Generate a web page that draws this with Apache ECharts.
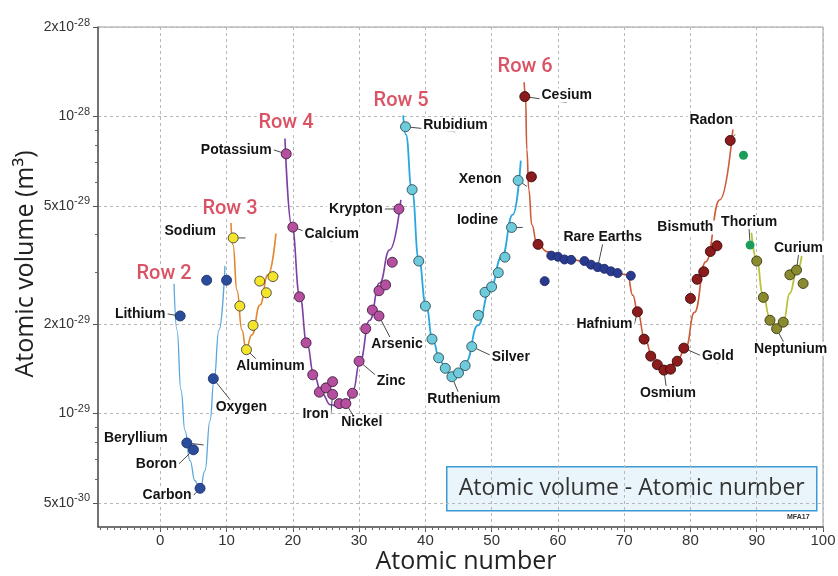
<!DOCTYPE html>
<html>
<head>
<meta charset="utf-8">
<script src="https://cdn.jsdelivr.net/npm/echarts@6/dist/echarts.min.js"></script>
<style>
  html, body { margin: 0; padding: 0; background: #fff; }
  #chart { width: 838px; height: 576px; }
</style>
</head>
<body>
<div id="chart"></div>
<script>
// Volume per atom (m³) against atomic number, one group per periodic-table row.
// Points are [atomic number, volume]; name lists mark which points carry a label.

const row2 = [[3, 2.13e-29], [4, 7.96e-30], [5, 7.55e-30], [6, 5.60e-30], [7, 2.81e-29], [8, 1.31e-29], [10, 2.81e-29]];
const row2Names = ['Lithium', 'Beryllium', 'Boron', 'Carbon', '', 'Oxygen', ''];

const row3 = [[11, 3.90e-29], [12, 2.30e-29], [13, 1.64e-29], [14, 1.98e-29], [15, 2.79e-29], [16, 2.55e-29], [17, 2.89e-29]];
const row3Names = ['Sodium', '', 'Aluminum', '', '', '', ''];

const row4 = [[19, 7.48e-29], [20, 4.24e-29], [21, 2.47e-29], [22, 1.73e-29], [23, 1.35e-29], [24, 1.18e-29], [25, 1.22e-29],
  [26, 1.28e-29], [26, 1.16e-29], [27, 1.08e-29], [28, 1.08e-29], [29, 1.17e-29], [30, 1.50e-29], [31, 1.93e-29],
  [32, 2.23e-29], [33, 2.13e-29], [33, 2.59e-29], [34, 2.71e-29], [35, 3.23e-29], [36, 4.88e-29]];
const row4Names = ['Potassium', 'Calcium', '', '', '', '', '', '', 'Iron', '', 'Nickel', '', 'Zinc', '', '', 'Arsenic', '', '', '', 'Krypton'];

const row5 = [[37, 9.23e-29], [38, 5.67e-29], [39, 3.26e-29], [40, 2.30e-29], [41, 1.78e-29], [42, 1.54e-29], [43, 1.42e-29],
  [44, 1.33e-29], [45, 1.37e-29], [46, 1.45e-29], [47, 1.68e-29], [48, 2.14e-29], [49, 2.56e-29], [50, 2.67e-29],
  [51, 2.98e-29], [52, 3.36e-29], [53, 4.23e-29], [54, 6.09e-29]];
const row5Names = ['Rubidium', '', '', '', '', '', '', 'Ruthenium', '', '', 'Silver', '', '', '', '', '', 'Iodine', 'Xenon'];

const row6 = [[55, 1.166e-28], [56, 6.26e-29], [57, 3.71e-29], [72, 2.20e-29], [73, 1.78e-29], [74, 1.56e-29], [75, 1.46e-29],
  [76, 1.40e-29], [77, 1.41e-29], [78, 1.50e-29], [79, 1.66e-29], [80, 2.44e-29], [81, 2.83e-29], [82, 3.00e-29],
  [83, 3.51e-29], [84, 3.67e-29], [86, 8.30e-29]];
const row6Names = ['Cesium', '', '', 'Hafnium', '', '', '', 'Osmium', '', '', 'Gold', '', '', '', 'Bismuth', '', 'Radon'];

const rareEarths = [[58, 2.79e-29], [59, 3.40e-29], [60, 3.37e-29], [61, 3.30e-29], [62, 3.29e-29], [64, 3.26e-29],
  [65, 3.17e-29], [66, 3.11e-29], [67, 3.07e-29], [68, 3.01e-29], [69, 2.97e-29], [71, 2.91e-29]];
const rareEarthNames = ['', '', '', '', '', '', '', 'Rare Earths', '', '', '', ''];

const row7Green = [[88, 7.40e-29], [89, 3.69e-29]];
const row7GreenNames = ['', 'Thorium'];

const row7 = [[90, 3.26e-29], [91, 2.46e-29], [92, 2.06e-29], [93, 1.93e-29], [94, 2.03e-29], [95, 2.93e-29], [96, 3.04e-29], [97, 2.74e-29]];
const row7Names = ['', '', '', 'Neptunium', '', '', 'Curium', ''];

// Hand-drawn trend curves through each row.
const row2Curve = [[2.07, 2.75e-29], [2.52, 1.91e-29], [3.12, 1.20e-29], [3.73, 8.76e-30], [4.48, 6.94e-30], [5.23, 5.94e-30],
  [5.99, 5.49e-30], [6.74, 6.42e-30], [7.5, 9.47e-30], [8.1, 1.29e-29], [8.85, 1.91e-29], [9.76, 3.14e-29]];
const row3Curve = [[10.66, 4.38e-29], [10.97, 3.69e-29], [11.57, 2.60e-29], [12.32, 1.91e-29], [12.93, 1.65e-29],
  [13.83, 1.84e-29], [15.04, 2.32e-29], [16.24, 2.93e-29], [17.45, 4.03e-29]];
const row4Curve = [[18.81, 8.43e-29], [19.86, 4.25e-29], [21.07, 2.47e-29], [22.13, 1.72e-29], [23.18, 1.35e-29],
  [24.34, 1.17e-29], [25.7, 1.07e-29], [27.1, 1.05e-29], [28.2, 1.08e-29], [29.1, 1.20e-29], [30.1, 1.49e-29],
  [31.6, 2.06e-29], [33.1, 2.75e-29], [34.6, 3.55e-29], [36.3, 5.24e-29]];
const row5Curve = [[36.65, 1.008e-28], [37.06, 8.69e-29], [37.96, 5.67e-29], [39.02, 3.29e-29], [40.08, 2.32e-29],
  [41.13, 1.76e-29], [42.19, 1.51e-29], [43.24, 1.38e-29], [44.15, 1.31e-29], [45.05, 1.35e-29], [46.11, 1.49e-29],
  [47.92, 1.98e-29], [49.73, 2.60e-29], [51.54, 3.37e-29], [53.2, 4.67e-29], [54.4, 7.10e-29]];
const row6Curve = [[54.9, 1.303e-28], [55.11, 1.166e-28], [55.31, 7.74e-29], [55.61, 5.67e-29], [56.06, 4.32e-29],
  [56.82, 3.73e-29], [58.48, 3.50e-29], [61.79, 3.31e-29], [66.31, 3.09e-29], [70.5, 2.93e-29], [71.3, 2.50e-29],
  [72.05, 2.19e-29], [73.1, 1.78e-29], [74.3, 1.55e-29], [76.1, 1.40e-29], [77.9, 1.49e-29], [79.3, 1.67e-29],
  [80.6, 2.19e-29], [82.3, 3.24e-29], [84.43, 5.24e-29], [86.4, 9.04e-29]];
const row7Curve = [[89.2, 4.06e-29], [90.0, 3.29e-29], [90.9, 2.54e-29], [91.96, 2.11e-29], [93.17, 1.92e-29],
  [94.07, 2.06e-29], [94.98, 2.54e-29], [96.03, 3.0e-29], [96.79, 3.39e-29]];

const rowTitles = ['Row 2', 'Row 3', 'Row 4', 'Row 5', 'Row 6'];

// Axis extents and tick values
const xRange = [-9.4, 100];
const yRange = [4.15e-30, 2e-28];
const xLabelValues = [0, 10, 20, 30, 40, 50, 60, 70, 80, 90, 100];
const yLabelValues = [5e-30, 1e-29, 2e-29, 5e-29, 1e-28, 2e-28];
const yMinorValues = [6e-30, 7e-30, 8e-30, 9e-30, 3e-29, 4e-29, 6e-29, 7e-29, 8e-29, 9e-29];

// ---- styling ----
const LABEL_FONT = '"Liberation Sans", Arial, sans-serif';
const TITLE_FONT = '"Open Sans", "Liberation Sans", sans-serif';

// label centre relative to its point, in pixels
const labelOffset = {
  Lithium: [-40, -2], Beryllium: [-51, -5], Boron: [-37, 14], Carbon: [-33, 7], Oxygen: [28, 28],
  Sodium: [-43, -7], Aluminum: [24, 16], Potassium: [-50, -4], Calcium: [39, 7], Iron: [-17, 20],
  Nickel: [16, 19], Zinc: [32, 20], Arsenic: [18, 28], Krypton: [-43, 0], Rubidium: [50, -2],
  Ruthenium: [12, 22], Silver: [39, 11], Iodine: [-34, -7], Xenon: [-38, -1], Cesium: [42, -1],
  'Rare Earths': [5, -30], Hafnium: [-33, 12], Osmium: [4, 23], Gold: [34, 8], Bismuth: [-25, -24],
  Radon: [-19, -20], Thorium: [-1, -23], Curium: [2, -22], Neptunium: [14, 20]
};
const rowTitleOffset = [[-10, -9], [-1, -14], [1, -15], [-2, -14], [1, -15]];

const toPoint = p => [p[0], Math.log10(p[1])];

function dotItems(values, names) {
  return values.map((p, i) => {
    const item = { value: toPoint(p) };
    const n = names[i];
    if (n) {
      item.name = n;
      item.label = { show: true, formatter: n, offset: labelOffset[n] };
      item.labelLine = { show: true };
    }
    return item;
  });
}

function dotSeries(values, names, color, border, size) {
  return {
    type: 'scatter',
    z: 3,
    symbolSize: size,
    data: dotItems(values, names),
    itemStyle: { color: color, borderColor: border, borderWidth: border ? 0.9 : 0, opacity: 1 },
    label: {
      show: false, position: 'inside', color: '#141414', fontFamily: LABEL_FONT,
      fontSize: 14, fontWeight: 'bold', backgroundColor: '#fff', padding: [0, 2]
    },
    labelLine: { show: false, length2: 0, lineStyle: { color: '#4a4a4a', width: 1 } },
    emphasis: { disabled: true },
    silent: true
  };
}

function curveSeries(points, color, width) {
  return {
    type: 'line',
    z: 2,
    data: points.map(toPoint),
    smooth: 0.5,
    smoothMonotone: 'x',
    showSymbol: false,
    symbol: 'none',
    lineStyle: { color: color, width: width },
    emphasis: { disabled: true },
    silent: true
  };
}

const curves = [row2Curve, row3Curve, row4Curve, row5Curve, row6Curve];

function sciLabel(lv) {
  const e = Math.floor(lv + 1e-6);
  const m = Math.round(Math.pow(10, lv - e));
  return (m === 1 ? '{b|10}' : '{b|' + m + 'x10}') + '{s|' + e + '}';
}

const xMinor = [];
for (let z = Math.ceil(xRange[0]); z <= xRange[1]; z++) xMinor.push(z);

const yMin = Math.log10(yRange[0]);
const yMax = Math.log10(yRange[1]);

const chart = echarts.init(document.getElementById('chart'), null, { renderer: 'canvas' });

chart.setOption({
  animation: false,
  backgroundColor: '#fff',
  grid: {
    left: 98, right: 15, top: 27, bottom: 49,
    show: true, borderColor: '#9a9a9a', borderWidth: 1,
    outerBoundsMode: 'none'
  },
  xAxis: [
    {
      type: 'value', min: xRange[0], max: xRange[1], position: 'bottom',
      name: 'Atomic number', nameLocation: 'middle', nameGap: 22, nameMoveOverlap: false,
      nameTextStyle: { fontFamily: TITLE_FONT, fontSize: 25, color: '#222', padding: [0, 0, 0, 11] },
      axisLine: { onZero: false, lineStyle: { color: '#555', width: 1.5 } },
      axisTick: { customValues: xLabelValues, length: 5, lineStyle: { color: '#555' } },
      axisLabel: { customValues: xLabelValues, fontFamily: LABEL_FONT, fontSize: 15, color: '#333', margin: 6 },
      splitLine: { show: true, lineStyle: { color: '#b8b8b8', type: [3, 3], width: 1 } }
    },
    {
      type: 'value', min: xRange[0], max: xRange[1], position: 'bottom', offset: 0,
      axisLine: { show: false, onZero: false },
      axisTick: { customValues: xMinor, length: 3, lineStyle: { color: '#666' } },
      axisLabel: { show: false },
      splitLine: { show: false }
    }
  ],
  yAxis: [
    {
      type: 'value', min: yMin, max: yMax, position: 'left',
      name: 'Atomic volume (m³)', nameLocation: 'middle', nameGap: 60, nameMoveOverlap: false,
      nameTextStyle: { fontFamily: TITLE_FONT, fontSize: 25, color: '#222', padding: [0, 0, 0, 26] },
      axisLine: { show: true, onZero: false, lineStyle: { color: '#555', width: 1.5 } },
      axisTick: { show: true, customValues: yLabelValues.map(Math.log10), length: 5, lineStyle: { color: '#555' } },
      axisLabel: {
        customValues: yLabelValues.map(Math.log10),
        formatter: sciLabel, margin: 8,
        rich: {
          b: { fontFamily: LABEL_FONT, fontSize: 14, color: '#333', lineHeight: 20 },
          s: { fontFamily: LABEL_FONT, fontSize: 11, color: '#333', lineHeight: 11, verticalAlign: 'top' }
        }
      },
      splitLine: { show: true, lineStyle: { color: '#b8b8b8', type: [3, 3], width: 1 } }
    },
    {
      type: 'value', min: yMin, max: yMax, position: 'left', offset: 0,
      axisLine: { show: false, onZero: false },
      axisTick: { show: true, customValues: yMinorValues.map(Math.log10), length: 3, lineStyle: { color: '#666' } },
      axisLabel: { show: false },
      splitLine: { show: false }
    }
  ],
  graphic: [
    {
      type: 'group', left: 446, top: 466, z: 20,
      children: [
        { type: 'rect', shape: { x: 0, y: 0, width: 370, height: 44 },
          style: { fill: '#eaf5fb', stroke: '#3d9ad5', lineWidth: 1.5 } },
        { type: 'text', x: 185, y: 22,
          style: { text: 'Atomic volume - Atomic number', font: '23px ' + TITLE_FONT, fill: '#333',
                   align: 'center', verticalAlign: 'middle', textAlign: 'center', textVerticalAlign: 'middle' } }
      ]
    },
    {
      type: 'text', left: 787, top: 514, z: 20,
      style: { text: 'MFA17', font: 'bold 7px ' + LABEL_FONT, fill: '#333' }
    }
  ],
  series: [
    curveSeries(row2Curve, '#5aa6dc', 1.3),
    curveSeries(row3Curve, '#e2872c', 1.6),
    curveSeries(row4Curve, '#7b3fa3', 1.6),
    curveSeries(row5Curve, '#2ba7e0', 1.8),
    curveSeries(row6Curve, '#cd5b38', 1.6),
    curveSeries(row7Curve, '#b7c33a', 1.8),
    dotSeries(row2, row2Names, '#2b4c9b', '#1d3370', 10),
    dotSeries(row3, row3Names, '#f4e52a', '#444', 10),
    dotSeries(row4, row4Names, '#b64f9f', '#3e2040', 10),
    dotSeries(row5, row5Names, '#6dcbdc', '#2f4d55', 10),
    dotSeries(row6, row6Names, '#8c1b1d', '#3a0a0a', 10),
    dotSeries(rareEarths, rareEarthNames, '#2a3a8f', '#1f2b6a', 9),
    dotSeries(row7Green, row7GreenNames, '#1c9e5a', null, 9),
    dotSeries(row7, row7Names, '#8a8a2f', '#3a3a14', 10),
    {
      type: 'scatter', z: 4, symbolSize: 0, silent: true,
      data: curves.map((c, i) => ({
        value: toPoint(c[0]),
        label: { show: true, formatter: rowTitles[i], offset: rowTitleOffset[i] }
      })),
      label: {
        position: 'inside', color: '#d1283d', fontFamily: 'Roboto, "Liberation Sans", sans-serif',
        fontSize: 20, fontWeight: 500, backgroundColor: '#fff', padding: [0, 2]
      }
    }
  ]
});
</script>
</body>
</html>
